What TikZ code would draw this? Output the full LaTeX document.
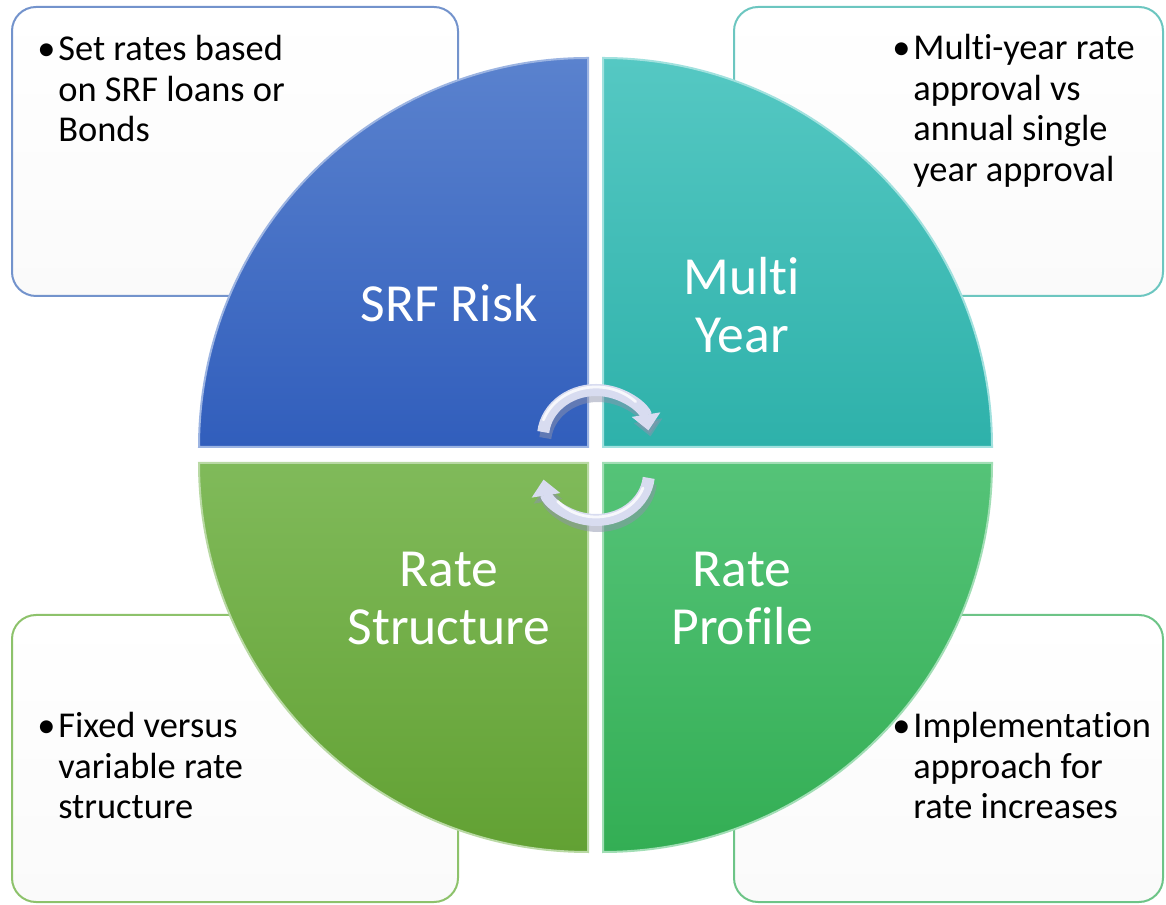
\documentclass[tikz,border=0pt]{standalone}
\usepackage{fontspec}
\setmainfont{Carlito}[Ligatures=NoCommon]
\usetikzlibrary{arrows.meta}

\definecolor{riskTop}{HTML}{5A82CE}
\definecolor{riskBot}{HTML}{315EBC}
\definecolor{riskLine}{HTML}{7393CC}
\definecolor{yearTop}{HTML}{55C8C3}
\definecolor{yearBot}{HTML}{2EB1AA}
\definecolor{yearLine}{HTML}{6CC6C0}
\definecolor{structTop}{HTML}{80BA5A}
\definecolor{structBot}{HTML}{62A133}
\definecolor{structLine}{HTML}{8DC26B}
\definecolor{profTop}{HTML}{55C378}
\definecolor{profBot}{HTML}{33AE54}
\definecolor{profLine}{HTML}{6DC487}
\definecolor{boxgray}{HTML}{FAFAFA}
\definecolor{arrowbody}{HTML}{D8DCF0}
\definecolor{arrowedge}{HTML}{8E93AD}

\begin{document}
\begin{tikzpicture}[x=0.5pt,y=0.5pt,
    infobox/.style={line width=1pt, rounded corners=12pt, top color=white, bottom color=boxgray},
    quarter/.style={line width=1pt},
    heading/.style={text=white, font=\fontsize{26.8}{29}\selectfont, align=center, anchor=base, inner sep=0pt},
    bullettext/.style={text=black, font=\fontsize{18.2}{20.25}\selectfont, align=left, anchor=base west, inner sep=0pt},
    cyclearrow/.style={line width=6pt, draw=arrowbody, -{Triangle[width=14pt,length=8pt]}},
    arrowshadow/.style={line width=6pt, draw=arrowedge, opacity=0.5, -{Triangle[width=14pt,length=8pt]}},
    gloss/.style={line width=1.4pt, draw=white, opacity=0.8, line cap=round}]

    \useasboundingbox (0,0) rectangle (1166,904);

    % text boxes behind the circle
    \draw[infobox, draw=riskLine] (12,608) rectangle (458,897);
    \draw[infobox, draw=yearLine] (734,608) rectangle (1163,897);
    \draw[infobox, draw=structLine] (12,2) rectangle (458,289);
    \draw[infobox, draw=profLine] (734,2) rectangle (1163,289);

    % the four quarters
    \shadedraw[quarter, top color=riskTop, bottom color=riskBot, draw=riskTop!60!white]
        (588,457) -- (199,457) arc[start angle=180, end angle=90, radius=389] -- cycle;
    \shadedraw[quarter, top color=yearTop, bottom color=yearBot, draw=yearTop!55!white]
        (603,457) -- (603,846) arc[start angle=90, end angle=0, radius=389] -- cycle;
    \shadedraw[quarter, top color=structTop, bottom color=structBot, draw=structTop!55!white]
        (588,441) -- (199,441) arc[start angle=180, end angle=270, radius=389] -- cycle;
    \shadedraw[quarter, top color=profTop, bottom color=profBot, draw=profTop!55!white]
        (603,441) -- (992,441) arc[start angle=0, end angle=-90, radius=389] -- cycle;

    % headings (base = last line)
    \node[heading] (srfrisk) at (449,582) {SRF Risk};
    \node[heading] (multiyear) at (742,551) {Multi\\Year};
    \node[heading] (ratestruct) at (449,259) {Rate\\Structure};
    \node[heading] (rateprof) at (742,259) {Rate\\Profile};

    % bullets (base = last line)
    \node[bullettext] (settext) at (37,762)
        {\makebox[10.5pt][l]{\textbullet}Set rates based\\\hspace*{10.5pt}on SRF loans or\\\hspace*{10.5pt}Bonds};
    \node[bullettext] (approvaltext) at (892,722.5)
        {\makebox[10.5pt][l]{\textbullet}Multi-year rate\\\hspace*{10.5pt}approval vs\\\hspace*{10.5pt}annual single\\\hspace*{10.5pt}year approval};
    \node[bullettext] (fixedtext) at (37,85)
        {\makebox[10.5pt][l]{\textbullet}Fixed versus\\\hspace*{10.5pt}variable rate\\\hspace*{10.5pt}structure};
    \node[bullettext] (impltext) at (892,85)
        {\makebox[10.5pt][l]{\textbullet}Implementation\\\hspace*{10.5pt}approach for\\\hspace*{10.5pt}rate increases};

    % cycle arrows
    \coordinate (topc) at (596,467);
    \coordinate (botc) at (596,431);
    \draw[arrowshadow] ([shift={(174:53 and 47)},xshift=1,yshift=-3]topc)
        arc[start angle=174, end angle=8, x radius=53, y radius=47];
    \draw[cyclearrow] ([shift={(174:53 and 47)}]topc)
        arc[start angle=174, end angle=8, x radius=53, y radius=47];
    \draw[gloss] ([shift={(160:56 and 50)}]topc)
        arc[start angle=160, end angle=45, x radius=56, y radius=50];

    \draw[arrowshadow] ([shift={(-6:53 and 47)},xshift=1,yshift=-3]botc)
        arc[start angle=-6, end angle=-172, x radius=53, y radius=47];
    \draw[cyclearrow] ([shift={(-6:53 and 47)}]botc)
        arc[start angle=-6, end angle=-172, x radius=53, y radius=47];
    \draw[gloss] ([shift={(-20:50 and 44)}]botc)
        arc[start angle=-20, end angle=-140, x radius=50, y radius=44];
\end{tikzpicture}
\end{document}
